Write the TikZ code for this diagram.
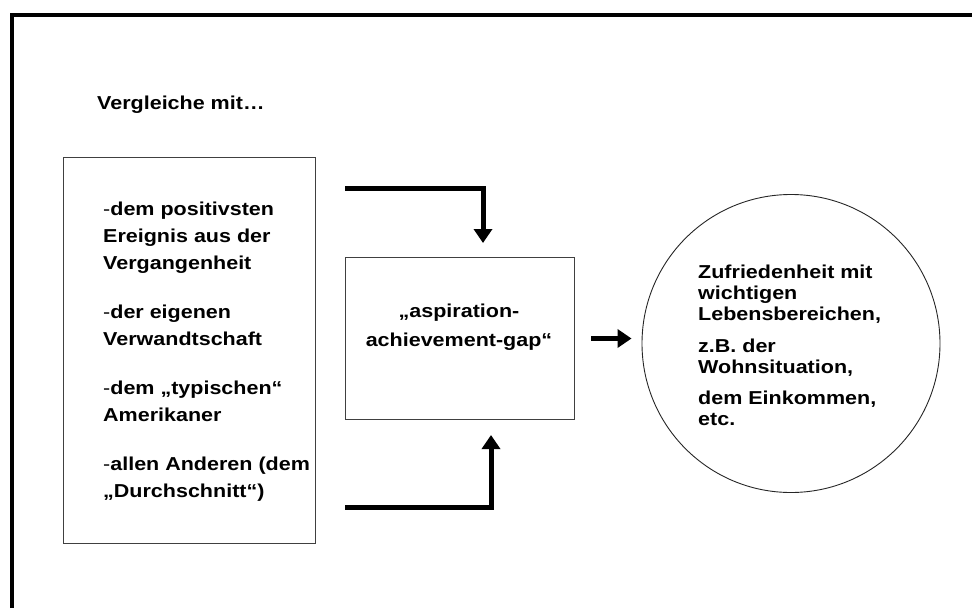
\documentclass[tikz,border=0pt]{standalone}
\usepackage{fontspec}
\setmainfont{Liberation Sans}[FakeStretch=1.15]
\usetikzlibrary{arrows.meta}
% thin (regular weight) dash in front of each list entry
\newcommand\lhy{{\mdseries -}}
% keep a fixed baseline distance even for tightly set lines
\lineskiplimit=-20pt
\begin{document}
\begin{tikzpicture}[x=1pt,y=-1pt,
  txt/.style={inner sep=0pt, align=left, font=\bfseries\fontsize{18.7}{27}\selectfont},
  ctxt/.style={inner sep=0pt, align=center, font=\bfseries\fontsize{18.7}{29}\selectfont},
  rtxt/.style={inner sep=0pt, align=left, font=\bfseries\fontsize{18.7}{21.3}\selectfont},
  thinbox/.style={draw=black!75, line width=1pt, fill=none},
  flow/.style={line width=5pt, line join=miter, -{Triangle[width=18pt,length=14pt]}}
]
\useasboundingbox (0,0) rectangle (972,608);

% outer frame (top and left edge)
\draw[line width=4pt] (12,608) -- (12,15) -- (972,15);

% heading
\node[txt, anchor=base west] (head) at (97,109) {Vergleiche mit…};

% comparison list
\node[thinbox, minimum width=252pt, minimum height=386pt, anchor=north west] (list) at (63,157) {};
\node[txt, anchor=north west] (listtext) at (103,201.4) {%
  \lhy dem positivsten\\Ereignis aus der\\Vergangenheit\\[22pt]
  \lhy der eigenen\\Verwandtschaft\\[22pt]
  \lhy dem „typischen“\\Amerikaner\\[22pt]
  \lhy allen Anderen (dem\\„Durchschnitt“)};

% gap box
\node[thinbox, minimum width=229pt, minimum height=162pt, anchor=north west] (mid) at (345,257) {};
\node[ctxt] (midtext) at (459,327) {„aspiration-\\achievement-gap“};

% satisfaction circle
\node[circle, draw=black!85, line width=0.9pt, minimum size=298pt, inner sep=0pt] (goal) at (791,343.5) {};
\node[rtxt, anchor=north west] (goaltext) at (698,264.4) {%
  Zufriedenheit mit\\wichtigen\\Lebensbereichen,\\[10pt]
  z.B. der\\Wohnsituation,\\[10pt]
  dem Einkommen,\\etc.};

% loose ends of the two feeding arrows
\coordinate (inA) at (345,188);
\coordinate (inB) at (345,507);

% connectors
\draw[flow, shorten >=14pt] (inA) -| ([xshift=23pt]mid.north);
\draw[flow, shorten >=15pt] (inB) -| ([xshift=31pt]mid.south);
\draw[flow, shorten <=16pt, shorten >=10pt] (mid.east) -- (mid.east -| goal.west);
\end{tikzpicture}
\end{document}
